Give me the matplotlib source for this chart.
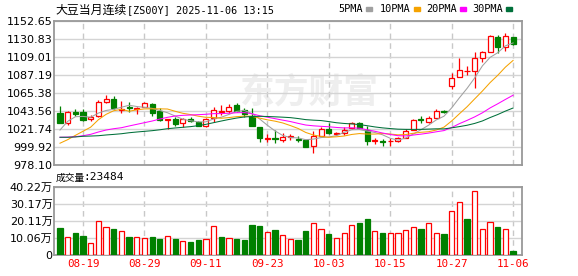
import numpy as np
import pandas as pd
import matplotlib
matplotlib.use('Agg')
import matplotlib.pyplot as plt
from matplotlib.patches import Rectangle

# K线数据
open_ = [1041.5, 1028.6, 1042.7, 1042.3, 1033.5, 1037.1, 1054.2, 1058.1, 1044.2, 1048.8,
         1046.0, 1048.8, 1052.0, 1043.5, 1032.6, 1033.8, 1028.6, 1033.8, 1030.2, 1025.4,
         1034.5, 1042.9, 1043.2, 1051.4, 1044.2, 1036.9, 1023.8, 1010.0, 1010.5, 1009.0,
         1012.3, 1010.2, 1008.4, 1001.1, 1013.2, 1021.4, 1015.1, 1016.5, 1022.9, 1029.4,
         1020.5, 1007.2, 1007.2, 1006.8, 1006.8, 1011.4, 1021.1, 1033.5, 1030.6, 1035.4,
         1043.9, 1074.2, 1084.4, 1092.0, 1092.4, 1107.4, 1114.7, 1133.6, 1121.5, 1132.9]
high = [1050.0, 1043.9, 1046.0, 1046.0, 1039.3, 1056.3, 1063.2, 1062.0, 1056.0, 1054.5,
        1048.8, 1054.5, 1053.8, 1047.2, 1034.1, 1035.7, 1034.7, 1036.3, 1032.0, 1034.5,
        1048.8, 1050.6, 1052.3, 1053.6, 1046.6, 1046.8, 1024.5, 1015.9, 1020.5, 1016.9,
        1016.0, 1013.8, 1009.0, 1019.7, 1023.8, 1029.4, 1018.1, 1024.5, 1029.8, 1030.6,
        1025.4, 1011.2, 1009.6, 1010.5, 1012.6, 1022.3, 1034.1, 1037.8, 1037.5, 1045.6,
        1045.1, 1090.0, 1107.4, 1098.1, 1115.4, 1116.3, 1136.0, 1136.0, 1137.7, 1133.6]
low = [1028.6, 1026.9, 1037.5, 1031.1, 1031.1, 1035.9, 1052.9, 1045.4, 1041.5, 1042.9,
       1040.5, 1047.8, 1037.1, 1031.1, 1021.7, 1025.4, 1023.8, 1030.2, 1025.0, 1024.2,
       1030.2, 1039.3, 1040.8, 1042.9, 1036.3, 1024.8, 1005.4, 1005.4, 1004.8, 1006.3,
       1009.0, 1006.3, 999.9, 993.0, 1012.6, 1015.3, 1013.9, 1014.8, 1022.1, 1021.7,
       1002.3, 1003.2, 1001.5, 1001.5, 1006.0, 1010.8, 1020.5, 1028.6, 1028.6, 1035.1,
       1041.7, 1070.2, 1084.2, 1087.2, 1071.1, 1102.6, 1114.5, 1114.2, 1116.6, 1123.6]
close = [1029.4, 1042.3, 1039.9, 1032.6, 1035.7, 1054.7, 1058.1, 1046.8, 1045.4, 1047.5,
         1047.2, 1052.9, 1040.8, 1032.6, 1033.6, 1027.2, 1033.5, 1031.8, 1025.7, 1033.8,
         1044.8, 1043.9, 1048.8, 1043.9, 1039.9, 1025.4, 1011.4, 1011.0, 1009.6, 1012.0,
         1013.0, 1009.0, 1000.3, 1013.2, 1021.4, 1016.5, 1016.9, 1020.5, 1028.6, 1022.6,
         1007.5, 1008.4, 1006.5, 1007.5, 1011.4, 1019.9, 1032.6, 1032.6, 1035.4, 1043.5,
         1042.0, 1083.2, 1093.2, 1092.6, 1107.4, 1114.7, 1134.8, 1121.5, 1134.5, 1124.8]

# 成交量 (万)
volume = [16.1, 10.6, 13.0, 11.2, 7.1, 20.4, 16.5, 15.3, 14.1, 10.8,
          10.6, 10.0, 10.6, 9.4, 11.2, 9.4, 8.2, 7.7, 8.8, 9.4,
          16.9, 10.6, 10.0, 9.4, 8.8, 17.7, 17.1, 13.5, 14.7, 11.8,
          9.4, 8.8, 14.1, 18.7, 15.3, 12.4, 9.8, 12.8, 17.5, 18.8,
          21.2, 14.1, 13.0, 13.3, 13.3, 14.5, 16.5, 15.3, 18.7, 12.8,
          12.4, 26.3, 31.6, 21.2, 37.7, 15.3, 19.3, 16.5, 15.3, 2.35]
vol_dir = 'grggrrrgrg' 'rrggrgrggr' 'rgrggggrgr' 'rggrrgrrrg' 'grgrrrrgrr' 'grrgrrrgrg'

# 均线开头部分 (窗口前的数据看不到, 直接读图)
ma5_head = [1020.5, 1031.0, 1036.6, 1037.0]
ma10_head = [1004.5, 1008.8, 1014.0, 1019.0, 1024.0, 1033.0, 1039.5, 1043.9, 1045.6]
ma20_head = [1011.7, 1011.9, 1012.4, 1013.6, 1015.3, 1018.1, 1020.5, 1022.1, 1023.3, 1025.4,
             1027.4, 1029.4, 1031.4, 1033.8, 1035.9, 1037.5, 1038.3, 1038.7, 1039.1]
ma30_head = [1011.7, 1011.7, 1012.1, 1012.9, 1013.2, 1013.6, 1014.5, 1015.2, 1016.0, 1017.2,
             1018.1, 1018.9, 1019.7, 1020.8, 1022.1, 1023.0, 1023.8, 1024.6, 1025.8, 1027.4,
             1029.4, 1031.4, 1033.3, 1035.0, 1036.3, 1036.9, 1037.1, 1036.9, 1036.5]

# 交易日 (CBOT, 9-01 劳动节休市)
dates = pd.bdate_range('2025-08-14', '2025-11-06').drop(pd.Timestamp('2025-09-01'))

price_ticks = np.linspace(978.10, 1152.65, 9)
vol_ticks = np.linspace(0, 40.22, 5)
vol_tick_labels = ['0', '10.06万', '20.11万', '30.17万', '40.22万']

RED = '#ff0000'
GREEN = '#008000'
W, H = 578, 276


def fx(px):
    return px / W


def fy(py):
    return 1 - py / H


def ma(n, head):
    vals = pd.Series(close).rolling(n).mean().to_numpy()
    vals[:n - 1] = head
    return vals


o = np.array(open_)
c = np.array(close)
h = np.array(high)
l = np.array(low)
x = np.arange(len(c))
up = c >= o
col = np.where(up, RED, GREEN)
body_lo = np.minimum(o, c)
body_hi = np.maximum(o, c)

fig = plt.figure(figsize=(W / 100, H / 100), dpi=100)
ax = fig.add_axes([fx(54), fy(165), 468 / W, 144 / H])
axv = fig.add_axes([fx(54), fy(255), 468 / W, 68 / H])

xlim = (-0.78, 60.16)
tick_idx = np.arange(3, len(c), 8)

for a in (ax, axv):
    a.set_xlim(*xlim)
    a.set_xticks(tick_idx)
    a.tick_params(length=0)
    for s in a.spines.values():
        s.set_color('#999999')
        s.set_linewidth(1.3)
    a.grid(axis='y', color='#d4d4d4', lw=1.0)
    a.grid(axis='x', color='#c8c8c8', lw=1.0, ls=(0, (4, 3)))
    a.set_axisbelow(True)

# 水印
ax.text(0.545, 0.51, '东方财富', transform=ax.transAxes, ha='center', va='center',
        fontsize=25, fontweight='bold', color='#eeeeee', family='Noto Sans CJK SC', zorder=0)

# K线
ax.vlines(x, body_hi, h, colors=col, lw=0.9, zorder=3)
ax.vlines(x, l, body_lo, colors=col, lw=0.9, zorder=3)
ax.bar(x, np.maximum(body_hi - body_lo, 0.25), bottom=body_lo, width=0.66,
       color=np.where(up, 'white', GREEN), edgecolor=col, linewidth=0.9, zorder=3)

# 均线
ax.plot(x, ma(5, ma5_head), color='#a0a0a0', lw=0.75, zorder=4)
ax.plot(x, ma(10, ma10_head), color='#f5a200', lw=0.75, zorder=4)
ax.plot(x, ma(20, ma20_head), color='#ff00ff', lw=0.75, zorder=4)
ax.plot(x, ma(30, ma30_head), color='#00703a', lw=0.75, zorder=4)

ax.set_ylim(price_ticks[0], price_ticks[-1])
ax.set_yticks(price_ticks)
ax.set_yticklabels(['%.2f' % v for v in price_ticks], fontsize=8, family='DejaVu Sans')
ax.tick_params(axis='y', pad=1)
ax.tick_params(labelbottom=False)

# 成交量
vcol = np.array([RED if d == 'r' else GREEN for d in vol_dir])
axv.bar(x, volume, width=0.68, color=np.where(vcol == RED, 'white', GREEN),
        edgecolor=vcol, linewidth=0.9, zorder=3)
axv.set_ylim(vol_ticks[0], vol_ticks[-1])
axv.set_yticks(vol_ticks)
axv.set_yticklabels(vol_tick_labels, fontsize=8, family=['DejaVu Sans', 'Noto Sans CJK SC'])
axv.tick_params(axis='y', pad=1)
axv.set_xticklabels([dates[i].strftime('%m-%d') for i in tick_idx], color=RED,
                    fontsize=7.8, family='DejaVu Sans Mono')
axv.tick_params(axis='x', pad=3)

# 标题
fig.text(fx(55), fy(10.5), '大豆当月连续', family='Noto Sans CJK SC', fontsize=8.6, va='center')
fig.text(fx(127), fy(10), '[ZS00Y] 2025-11-06 13:15', family='DejaVu Sans Mono',
         fontsize=7.3, va='center')
fig.text(fx(56), fy(177.5), '成交量', family='Noto Sans CJK SC', fontsize=7, va='center')
fig.text(fx(83), fy(177), ':23484', family='DejaVu Sans Mono', fontsize=8, va='center')

# 图例
legend = [('5PMA', '#a0a0a0', 338), ('10PMA', '#f5a200', 380),
          ('20PMA', '#ff00ff', 426), ('30PMA', '#00703a', 472)]
for name, cc, px in legend:
    t = fig.text(fx(px), fy(9), name, family='DejaVu Sans Mono', fontsize=7.4, va='center')
    sx = px + len(name) * 6.2 + 3
    fig.patches.append(Rectangle((fx(sx), fy(10.5)), 6 / W, 4 / H, color=cc,
                                 transform=fig.transFigure, figure=fig))

fig.savefig('out.png', dpi=100)
